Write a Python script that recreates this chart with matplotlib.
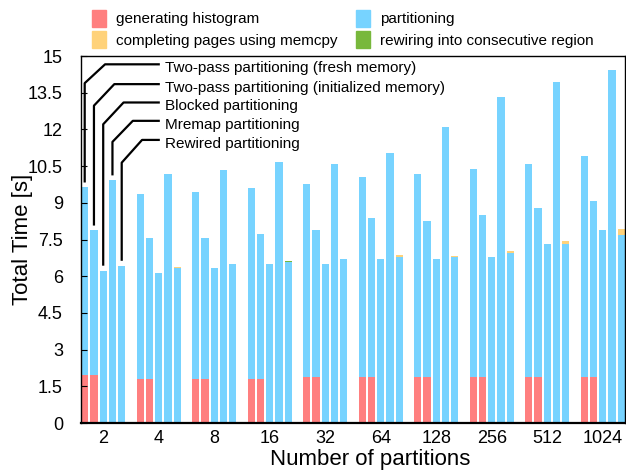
import numpy as np
import matplotlib.pyplot as plt
from matplotlib.patches import Patch

plt.rcParams['font.family'] = ['Liberation Sans', 'DejaVu Sans']

groups = ['2', '4', '8', '16', '32', '64', '128', '256', '512', '1024']
methods = ['Two-pass partitioning (fresh memory)',
           'Two-pass partitioning (initialized memory)',
           'Blocked partitioning',
           'Mremap partitioning',
           'Rewired partitioning']

# seconds, one value per partition count
hist_fresh = [1.97, 1.78, 1.78, 1.80, 1.86, 1.90, 1.90, 1.89, 1.86, 1.86]
hist_init = [1.97, 1.78, 1.78, 1.80, 1.86, 1.90, 1.90, 1.89, 1.86, 1.86]
part_fresh = [7.66, 7.56, 7.65, 7.80, 7.89, 8.14, 8.26, 8.48, 8.71, 9.04]
part_init = [5.90, 5.80, 5.80, 5.94, 6.01, 6.46, 6.34, 6.63, 6.91, 7.20]
part_blocked = [6.23, 6.15, 6.33, 6.48, 6.48, 6.72, 6.72, 6.80, 7.30, 7.87]
part_mremap = [9.92, 10.16, 10.33, 10.66, 10.57, 11.02, 12.09, 13.32, 13.93, 14.43]
part_rewired = [6.43, 6.34, 6.48, 6.57, 6.72, 6.80, 6.79, 6.94, 7.30, 7.70]
memcpy_rewired = [0, 0.03, 0, 0, 0, 0.06, 0.05, 0.08, 0.13, 0.21]
rewire_rewired = [0, 0, 0, 0.04, 0, 0, 0, 0, 0, 0]

zeros = [0] * len(groups)
# per method: (histogram, partitioning, memcpy, rewiring)
stacks = [
    (hist_fresh, part_fresh, zeros, zeros),
    (hist_init, part_init, zeros, zeros),
    (zeros, part_blocked, zeros, zeros),
    (zeros, part_mremap, zeros, zeros),
    (zeros, part_rewired, memcpy_rewired, rewire_rewired),
]

c_hist = '#ff7f7f'
c_part = '#77d3ff'
c_memcpy = '#ffd27a'
c_rewire = '#78b83c'
colors = [c_hist, c_part, c_memcpy, c_rewire]

fig = plt.figure(figsize=(6.26, 4.73), dpi=100)
ax = fig.add_axes([81 / 626, 1 - 423 / 473, 544 / 626, 367 / 473])

n_m = len(methods)
slot = n_m + 1
width = 0.8
tops = []
for m, parts in enumerate(stacks):
    x = np.arange(len(groups)) * slot + m
    bottom = np.zeros(len(groups))
    for vals, c in zip(parts, colors):
        v = np.array(vals, dtype=float)
        ax.bar(x, v, width=width, bottom=bottom, color=c, linewidth=0)
        bottom = bottom + v
    tops.append(bottom)

# callouts to the first group
knee_y = [13.89, 12.97, 12.21, 11.49, 10.64]
line_y = [14.66, 13.85, 13.10, 12.35, 11.57]
line_end = 8.12
text_x = 8.66
for m in range(n_m):
    bx = m
    by = tops[m][0] + 0.2
    ax.plot([bx, bx, bx + 2.2, line_end], [by, knee_y[m], line_y[m], line_y[m]],
            color='black', lw=1.6, solid_capstyle='butt', zorder=3)
    ax.text(text_x, line_y[m] - 0.16, methods[m], fontsize=11, va='center', ha='left')

ax.set_xlim(-width / 2, (len(groups) - 1) * slot + n_m - 1 + width / 2)
ax.set_ylim(0, 15)
ax.set_yticks(np.arange(0, 15.1, 1.5))
ax.set_yticklabels(['0', '1.5', '3', '4.5', '6', '7.5', '9', '10.5', '12', '13.5', '15'])
ax.set_xticks(np.arange(len(groups)) * slot + 2)
ax.set_xticklabels(groups)
ax.tick_params(axis='y', direction='in', length=4, pad=13, labelsize=13)
ax.tick_params(axis='x', length=0, pad=5, labelsize=13)

for s in ax.spines.values():
    s.set_linewidth(1.0)
ax.spines['bottom'].set_linewidth(1.6)

ax.set_ylabel('Total Time [s]', fontsize=16)
ax.yaxis.set_label_coords(-0.088, 0.5)
ax.set_xlabel('Number of partitions', fontsize=16)
ax.xaxis.set_label_coords(0.532, -0.07)

handles = [Patch(color=c_hist), Patch(color=c_memcpy), Patch(color=c_part), Patch(color=c_rewire)]
labels = ['generating histogram', 'completing pages using memcpy',
          'partitioning', 'rewiring into consecutive region']
fig.legend(handles, labels, ncol=2, loc='upper left', bbox_to_anchor=(92 / 626, 1 - 10 / 473),
           frameon=False, fontsize=11, borderpad=0, borderaxespad=0,
           handlelength=0.92, handleheight=1.3, handletextpad=0.65,
           columnspacing=1.2, labelspacing=0.3)

plt.savefig('out.png', dpi=100)
